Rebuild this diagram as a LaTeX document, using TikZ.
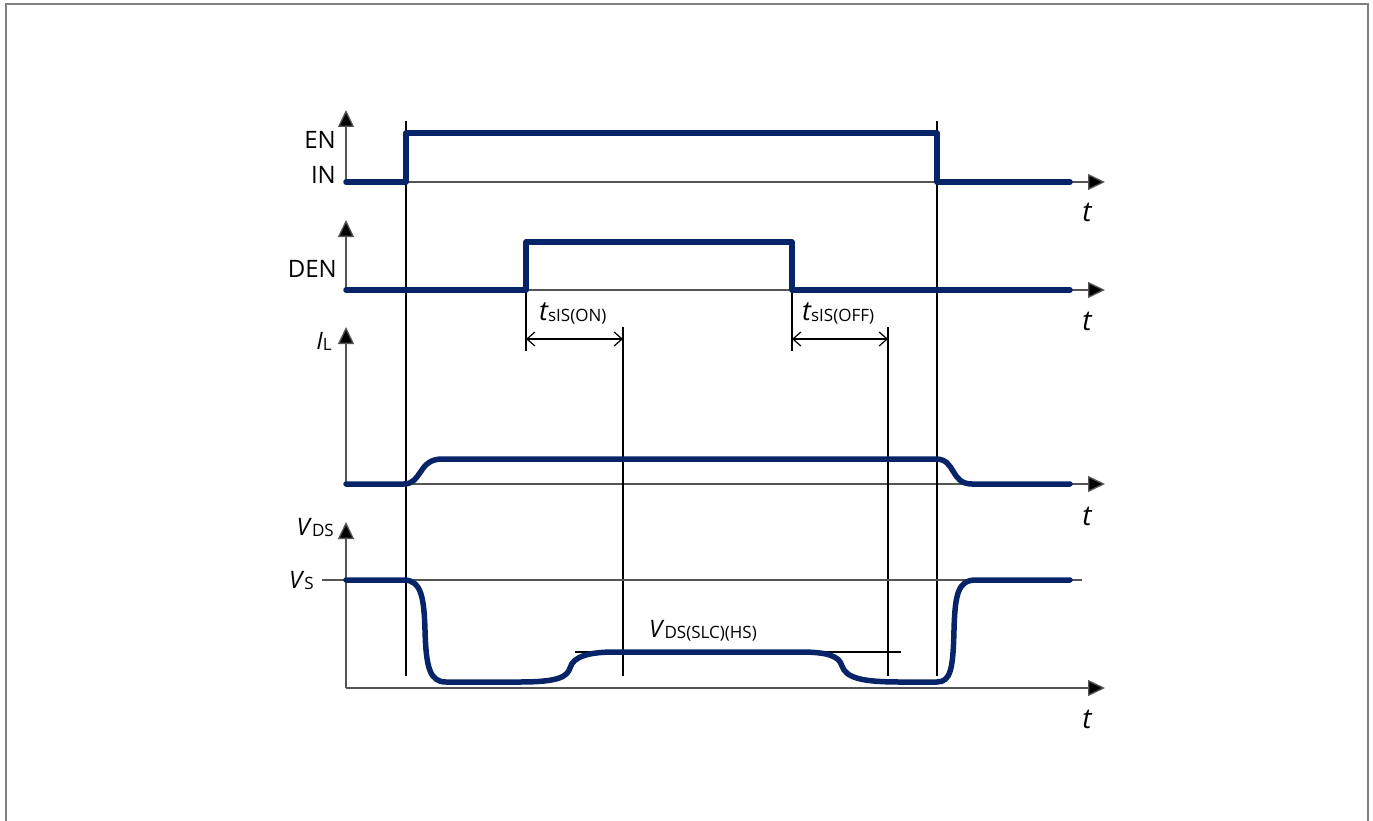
\documentclass[tikz,border=0pt]{standalone}
\usepackage{fontspec}
\setmainfont{Open Sans}
\usetikzlibrary{arrows.meta}
\definecolor{sigc}{RGB}{8,36,104}
\definecolor{axisgray}{RGB}{85,85,85}
\definecolor{framec}{RGB}{128,128,128}
\newcommand\mysub[1]{{\fontsize{17}{17}\selectfont\raisebox{-1.5pt}{#1}}}
\begin{document}
\begin{tikzpicture}[x=1pt,y=-1pt,
  sig/.style={draw=sigc, line width=5.5pt, line cap=round, line join=round},
  thinl/.style={draw=black, line width=1.2pt},
  axisl/.style={draw=axisgray, line width=1.3pt},
  axarrow/.style={axisl, -{Triangle[length=17pt,width=16pt,fill=black]}},
  dimarrow/.style={draw=black, line width=1.2pt, {Straight Barb[length=8pt,width=14pt]}-{Straight Barb[length=8pt,width=14pt]}},
  lbl/.style={font=\fontsize{24}{24}\selectfont, text=black, inner sep=0pt},
  tlbl/.style={font=\fontsize{28}{28}\selectfont\itshape, text=black, inner sep=0pt}]
\useasboundingbox (0,0) rectangle (1373,821);
% frame
\draw[draw=framec, line width=1.5pt] (6,821) -- (6,4) -- (1368,4) -- (1368,821);

% ---------- coordinates ----------
\coordinate (a1o) at (346,182); \coordinate (a1y) at (346,110); \coordinate (a1x) at (1105,182);
\coordinate (a2o) at (346,290); \coordinate (a2y) at (346,220); \coordinate (a2x) at (1105,290);
\coordinate (a3o) at (346,484); \coordinate (a3y) at (346,327); \coordinate (a3x) at (1105,484);
\coordinate (a4o) at (346,688); \coordinate (a4y) at (346,522); \coordinate (a4x) at (1105,688);

\coordinate (v1t) at (406,121); \coordinate (v1b) at (406,676);
\coordinate (v2t) at (937,121); \coordinate (v2b) at (937,676);
\coordinate (v3t) at (526,242); \coordinate (v3b) at (526,351);
\coordinate (v4t) at (792,242); \coordinate (v4b) at (792,351);
\coordinate (v5t) at (623,327); \coordinate (v5b) at (623,676);
\coordinate (v6t) at (888,327); \coordinate (v6b) at (888,676);
\coordinate (d1a) at (526,339); \coordinate (d1b) at (623,339);
\coordinate (d2a) at (792,339); \coordinate (d2b) at (888,339);
\coordinate (vsa) at (322,580); \coordinate (vsb) at (1082,580);
\coordinate (vla) at (575,652); \coordinate (vlb) at (901,652);

% ---------- axes ----------
\draw[axarrow] (a1o) -- (a1y);
\draw[axarrow] (a1o) -- (a1x);
\draw[axarrow] (a2o) -- (a2y);
\draw[axarrow] (a2o) -- (a2x);
\draw[axarrow] (a3o) -- (a3y);
\draw[axarrow] (a3o) -- (a3x);
\draw[axarrow] (a4o) -- (a4y);
\draw[axarrow] (a4o) -- (a4x);

% ---------- guide lines ----------
\draw[thinl] (v1t) -- (v1b);
\draw[thinl] (v2t) -- (v2b);
\draw[thinl] (v3t) -- (v3b);
\draw[thinl] (v4t) -- (v4b);
\draw[thinl] (v5t) -- (v5b);
\draw[thinl] (v6t) -- (v6b);
\draw[dimarrow] (d1a) -- (d1b);
\draw[dimarrow] (d2a) -- (d2b);
\draw[axisl] (vsa) -- (vsb);
\draw[thinl] (vla) -- (vlb);

% ---------- signals ----------
\draw[sig] (346,182) -- (406,182) -- (406,133) -- (937,133) -- (937,182) -- (1070,182);
\draw[sig] (346,290) -- (526,290) -- (526,242) -- (792,242) -- (792,290) -- (1070,290);
\draw[sig] (346,484) -- (404,484) .. controls (422,484) and (418,459) .. (442,459)
  -- (936,459) .. controls (956,459) and (950,484) .. (972,484) -- (1070,484);
\draw[sig] (346,580) -- (404,580) .. controls (422,580) and (424,600) .. (425,630)
  .. controls (426,668) and (430,682) .. (446,682) -- (520,682)
  .. controls (558,682) and (567,677) .. (570,668)
  .. controls (573,656) and (590,652) .. (615,652) -- (800,652)
  .. controls (828,652) and (839,656) .. (842,666)
  .. controls (846,678) and (862,682) .. (900,682) -- (937,682)
  .. controls (951,682) and (953,668) .. (954,630)
  .. controls (955,594) and (958,580) .. (976,580) -- (1070,580);

% ---------- labels ----------
\node[lbl, anchor=east] (len) at (336,140) {EN};
\node[lbl, anchor=east] (lin) at (336,175) {IN};
\node[lbl, anchor=east] (lden) at (337,269) {DEN};
\node[lbl, anchor=base east] (lil) at (332,349) {\itshape I\/\upshape\mysub{L}};
\node[lbl, anchor=base east] (lvds) at (334,535) {\itshape V\/\upshape\mysub{DS}};
\node[lbl, anchor=base east] (lvs) at (314,588) {\itshape V\/\upshape\mysub{S}};
\node[tlbl] (t1) at (1087,212) {t};
\node[tlbl] (t2) at (1087,321) {t};
\node[tlbl] (t3) at (1087,516) {t};
\node[tlbl] (t4) at (1087,719) {t};
\node[lbl, anchor=base west] (lton) at (539,320) {{\fontsize{27}{27}\selectfont\itshape t}\upshape\mysub{sIS(ON)}};
\node[lbl, anchor=base west] (ltoff) at (802,320) {{\fontsize{27}{27}\selectfont\itshape t}\upshape\mysub{sIS(OFF)}};
\node[lbl, anchor=base west] (lvslc) at (649,637) {\itshape V\/\upshape\mysub{DS(SLC)(HS)}};
\end{tikzpicture}
\end{document}
